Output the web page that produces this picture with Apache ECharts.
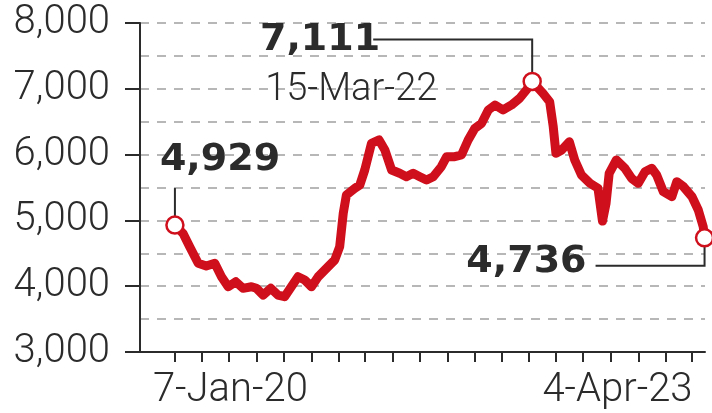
<!DOCTYPE html>
<html><head><meta charset="utf-8">
<script src="https://cdn.jsdelivr.net/npm/echarts@6/dist/echarts.min.js"></script>
<style>html,body{margin:0;padding:0;background:#fff}#c{width:712px;height:413px}</style>
</head><body><div id="c"></div>
<script>
const dates = ['2020-01-07','2020-01-25','2020-02-09','2020-02-28','2020-03-17','2020-04-05','2020-04-20','2020-05-05','2020-05-22','2020-06-07','2020-06-26','2020-07-07','2020-07-22','2020-08-08','2020-08-24','2020-09-08','2020-09-23','2020-10-08','2020-10-23','2020-11-07','2020-11-22','2020-12-14','2020-12-29','2021-01-09','2021-01-17','2021-01-24','2021-02-12','2021-02-23','2021-03-06','2021-03-21','2021-04-07','2021-04-20','2021-05-05','2021-05-23','2021-06-07','2021-06-22','2021-07-07','2021-07-22','2021-08-06','2021-08-24','2021-09-05','2021-09-23','2021-10-08','2021-10-23','2021-11-07','2021-11-22','2021-12-07','2021-12-22','2022-01-09','2022-01-28','2022-02-15','2022-03-02','2022-03-15','2022-04-08','2022-04-23','2022-05-01','2022-05-07','2022-05-20','2022-06-06','2022-06-18','2022-07-03','2022-07-22','2022-08-09','2022-08-19','2022-08-27','2022-09-03','2022-09-19','2022-10-08','2022-10-23','2022-11-07','2022-11-22','2022-12-07','2022-12-18','2023-01-02','2023-01-21','2023-02-01','2023-02-16','2023-03-07','2023-03-21','2023-04-01','2023-04-04'];
const values = [4929,4804,4600,4348,4307,4348,4144,3992,4068,3968,3992,3968,3866,3968,3866,3840,3992,4144,4094,3992,4144,4296,4398,4600,5108,5386,5488,5538,5766,6172,6222,6070,5766,5716,5664,5716,5664,5614,5664,5816,5968,5968,5994,6222,6400,6476,6678,6754,6678,6754,6856,6982,7111,6932,6804,6424,6020,6070,6196,5918,5690,5564,5488,4990,5260,5716,5918,5792,5640,5564,5740,5792,5690,5436,5360,5588,5512,5360,5158,4904,4736];
const highlightDates = ['2020-01-07','2022-03-15','2023-04-04'];
const highlightValues = [4929,7111,4736];
const highlightLabels = ['4,929','7,111','4,736'];
const peakDateLabel = '15-Mar-22';
const xTickDates = ['2020-01-07','2020-03-07','2020-05-07','2020-07-07','2020-09-07','2020-11-07','2021-01-07','2021-03-07','2021-05-07','2021-07-07','2021-09-07','2021-11-07','2022-01-07','2022-03-07','2022-05-07','2022-07-07','2022-09-07','2022-11-07','2023-01-07','2023-03-07'];
const xEndLabels = ['7-Jan-20','4-Apr-23'];
const yMin = 3000, yMax = 8000, yStep = 1000;

const t = s => +new Date(s + 'T00:00:00');
const RED = '#cf0f1c', INK = '#2b2b2b';
const grid = {color:'#a0a0a0', width:1.5, type:[9,8]};
const chart = echarts.init(document.getElementById('c'), null, {renderer:'canvas'});
chart.setOption({
  animation:false,
  grid:{left:140, top:23, right:7, bottom:61, containLabel:false},
  xAxis:{type:'time', min:t('2019-10-21'), max:t('2023-04-05'),
    axisLine:{show:true, lineStyle:{color:INK, width:2}},
    axisTick:{show:true, customValues:xTickDates.map(t), length:10, lineStyle:{color:INK, width:2}},
    axisLabel:{show:false}, splitLine:{show:false}},
  yAxis:{type:'value', min:yMin, max:yMax, interval:yStep,
    axisLine:{show:true, lineStyle:{color:INK, width:2}},
    axisTick:{show:true, length:15, lineStyle:{color:INK, width:2}},
    minorTick:{show:false, splitNumber:2},
    minorSplitLine:{show:true, lineStyle:grid},
    axisLabel:{margin:30, fontSize:40, fontFamily:'Roboto', fontWeight:300, color:INK, padding:[8,0,0,0],
      formatter:v=>Number(v).toLocaleString('en-US')},
    splitLine:{show:true, lineStyle:grid}},
  series:[
    {type:'line', data:dates.map((d,i)=>[t(d), values[i]]), showSymbol:false, symbol:'none',
     lineStyle:{color:RED, width:9, cap:'round', join:'round'}, z:3},
    {type:'scatter', data:highlightDates.map((d,i)=>[t(d), highlightValues[i]]), symbol:'circle', symbolSize:17,
     itemStyle:{color:'#fff', borderColor:RED, borderWidth:2.5, opacity:1}, z:5}
  ]
});
const P = highlightDates.map((d,i)=>chart.convertToPixel({gridIndex:0},[t(d), highlightValues[i]]));
const axisY = chart.convertToPixel({gridIndex:0},[t(highlightDates[0]), yMin])[1];
const bold = '700 38px "DejaVu Sans"';
const reg = '300 38px Roboto';
const line = pts => ({type:'polyline', shape:{points:pts}, style:{stroke:INK, lineWidth:2, fill:null}, z:4});
const txt = (text,x,y,font,align) => ({type:'text', x:x, y:y, style:{text:text, font:font, fill:INK, align:align, verticalAlign:'middle'}, z:6});
const [p0,p1,p2] = P;
chart.setOption({graphic:[
  line([[p0[0], p0[1]-37],[p0[0], p0[1]-9]]),
  txt(highlightLabels[0], p0[0]-15, p0[1]-65, bold, 'left'),
  line([[p1[0]-159, p1[1]-42],[p1[0], p1[1]-42],[p1[0], p1[1]-9]]),
  txt(highlightLabels[1], p1[0]-152, p1[1]-41, bold, 'right'),
  txt(peakDateLabel, p1[0]-267, p1[1]+9, reg, 'left'),
  line([[p2[0]-109, p2[1]+28],[p2[0], p2[1]+28],[p2[0], p2[1]+9]]),
  txt(highlightLabels[2], p2[0]-118, p2[1]+24, bold, 'right'),
  txt(xEndLabels[0], p0[0]-22, axisY+39, '300 40px Roboto', 'left'),
  txt(xEndLabels[1], p2[0]-12, axisY+39, '300 40px Roboto', 'right')
]});
</script></body></html>
